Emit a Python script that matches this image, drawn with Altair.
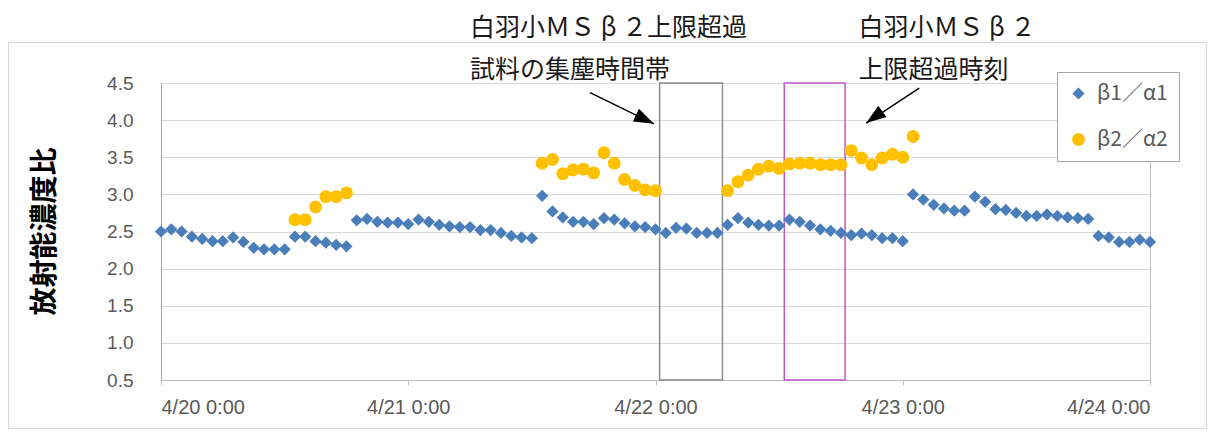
import altair as alt
import pandas as pd

# ---------------- data (hourly, hour 0 = 4/20 0:00) ----------------
series_names = ["β1／α1", "β2／α2"]

beta1_hours = list(range(97))
beta1_alpha1 = [
    2.50, 2.53, 2.50, 2.43, 2.40, 2.37, 2.37, 2.42, 2.36, 2.28,
    2.26, 2.26, 2.26, 2.43, 2.43, 2.37, 2.35, 2.32, 2.30, 2.65,
    2.67, 2.63, 2.62, 2.62, 2.60, 2.66, 2.63, 2.59, 2.57, 2.56,
    2.56, 2.52, 2.52, 2.48, 2.44, 2.42, 2.41, 2.98, 2.77, 2.69,
    2.63, 2.63, 2.60, 2.68, 2.66, 2.61, 2.57, 2.56, 2.53, 2.48,
    2.55, 2.54, 2.48, 2.48, 2.48, 2.59, 2.68, 2.62, 2.59, 2.58,
    2.58, 2.66, 2.63, 2.58, 2.53, 2.51, 2.48, 2.45, 2.47, 2.45,
    2.41, 2.41, 2.37, 3.00, 2.93, 2.86, 2.81, 2.78, 2.78, 2.97,
    2.90, 2.80, 2.79, 2.75, 2.71, 2.71, 2.73, 2.71, 2.69, 2.68,
    2.67, 2.44, 2.42, 2.36, 2.36, 2.39, 2.36,
]

beta2_hours = (list(range(13, 19)) + list(range(37, 49)) + list(range(55, 74)))
beta2_alpha2 = [
    2.66, 2.66, 2.83, 2.97, 2.97, 3.02,
    3.42, 3.47, 3.28, 3.33, 3.34, 3.29, 3.56, 3.42, 3.20, 3.12, 3.06, 3.05,
    3.05, 3.17, 3.26, 3.34, 3.38, 3.35, 3.41, 3.42, 3.42, 3.40, 3.40, 3.40,
    3.59, 3.49, 3.40, 3.49, 3.54, 3.50, 3.78,
]

x_tick_hours = [0, 24, 48, 72, 96]
y_ticks = [0.5, 1.0, 1.5, 2.0, 2.5, 3.0, 3.5, 4.0, 4.5]

# highlighted periods (hours)
box_start = [48.4, 60.5]
box_end = [54.5, 66.4]
box_kind = ["sample", "exceed"]

# annotation texts
note_text = ["白羽小ＭＳ β ２上限超過", "試料の集塵時間帯", "白羽小ＭＳ β ２", "上限超過時刻"]
note_x = [30.0, 30.0, 67.7, 67.7]
note_y = [5.24, 4.67, 5.24, 4.67]

# arrows: start -> tip
arrow_x0 = [41.65, 73.6]
arrow_y0 = [4.37, 4.43]
arrow_x1 = [47.85, 68.45]
arrow_y1 = [3.95, 3.96]
arrow_angle = [25.8, 144.0]

# ---------------- frames ----------------
df = pd.concat([
    pd.DataFrame({"hour": beta1_hours, "value": beta1_alpha1, "series": series_names[0]}),
    pd.DataFrame({"hour": beta2_hours, "value": beta2_alpha2, "series": series_names[1]}),
])
boxes = pd.DataFrame({"x0": box_start, "x1": box_end, "kind": box_kind,
                      "y0": [0.5, 0.5], "y1": [4.5, 4.5]})
notes = pd.DataFrame({"x": note_x, "y": note_y, "t": note_text})
arrows = pd.DataFrame({"x0": arrow_x0, "y0": arrow_y0, "x1": arrow_x1,
                       "y1": arrow_y1, "ang": arrow_angle})

xscale = alt.Scale(domain=[0, 96], nice=False, zero=False)
yscale = alt.Scale(domain=[0.5, 4.5], nice=False, zero=False)

label_expr = "'4/' + (20 + datum.value / 24) + ' 0:00'"

x_axis = alt.Axis(values=x_tick_hours, labelExpr=label_expr, title=None,
                  grid=False, tickSize=5, tickColor="#bfbfbf",
                  domainColor="#bfbfbf", labelPadding=12,
                  labelFontSize=20, labelColor="#595959",
                  labelFont="Liberation Sans", labelOverlap=False)
y_axis = alt.Axis(values=y_ticks, format=".1f", title="放射能濃度比",
                  grid=True, gridColor="#d9d9d9", ticks=False,
                  domainColor="#a6a6a6", labelPadding=28,
                  labelFontSize=19, labelColor="#595959",
                  labelFont="Liberation Sans", labelOverlap=False,
                  titleFont="Noto Sans CJK JP", titleFontSize=28,
                  titleFontWeight="bold", titleColor="#000000",
                  titleAngle=270, titleAlign="center",
                  titleBaseline="middle", titleX=-116, titleY=148)

points = alt.Chart(df).mark_point(filled=True, opacity=1, strokeWidth=0).encode(
    x=alt.X("hour:Q", scale=xscale, axis=x_axis),
    y=alt.Y("value:Q", scale=yscale, axis=y_axis),
    color=alt.Color("series:N",
                    scale=alt.Scale(domain=series_names, range=["#4A7EBB", "#FFC000"]),
                    legend=alt.Legend(title=None)),
    shape=alt.Shape("series:N",
                    scale=alt.Scale(domain=series_names, range=["diamond", "circle"]),
                    legend=alt.Legend(title=None)),
    size=alt.Size("series:N",
                  scale=alt.Scale(domain=series_names, range=[150, 165]),
                  legend=None),
)

rects = alt.Chart(boxes).mark_rect(fillOpacity=0, strokeWidth=1.5).encode(
    x=alt.X("x0:Q", scale=xscale, axis=x_axis),
    x2="x1:Q",
    y=alt.Y("y0:Q", scale=yscale, axis=y_axis),
    y2="y1:Q",
    stroke=alt.Stroke("kind:N",
                      scale=alt.Scale(domain=box_kind, range=["#8c8c8c", "#C055C8"]),
                      legend=None),
)

arrow_lines = alt.Chart(arrows).mark_rule(color="#000000", strokeWidth=1.5).encode(
    x=alt.X("x0:Q", scale=xscale, axis=x_axis), x2="x1:Q",
    y=alt.Y("y0:Q", scale=yscale, axis=y_axis), y2="y1:Q",
)

arrow_heads = alt.Chart(arrows).mark_point(
    shape="M0,0L-2,-0.7L-2,0.7Z", filled=True, color="#000000", opacity=1,
    size=400, strokeWidth=0,
).encode(
    x=alt.X("x1:Q", scale=xscale, axis=x_axis),
    y=alt.Y("y1:Q", scale=yscale, axis=y_axis),
    angle=alt.Angle("ang:Q", scale=None),
)

texts = alt.Chart(notes).mark_text(
    align="left", baseline="middle", fontSize=25, font="Noto Sans CJK JP",
    color="#1a1a1a",
).encode(
    x=alt.X("x:Q", scale=xscale, axis=x_axis),
    y=alt.Y("y:Q", scale=yscale, axis=y_axis),
    text="t:N",
)

frame = alt.Chart(pd.DataFrame({"a": [0]})).mark_rect(
    fill="transparent", stroke="#d9d9d9", strokeWidth=1
).encode(
    x=alt.value(-152.5), x2=alt.value(1045.5),
    y=alt.value(-40.5), y2=alt.value(345.5),
)

chart = alt.layer(frame, rects, points, arrow_lines, arrow_heads, texts).properties(
    width=989, height=297,
    padding={"left": 153, "top": 75, "right": 57, "bottom": 52},
    autosize=alt.AutoSizeParams(type="none"),
).configure_view(
    stroke="#bfbfbf", strokeWidth=1
).configure_axis(
    labelOverlap=False
).configure_legend(
    orient="none", legendX=896, legendY=-11,
    padding=11, strokeColor="#a6a6a6", fillColor="#ffffff",
    labelFontSize=21, labelColor="#595959", labelFont="Noto Sans CJK JP",
    symbolSize=110, rowPadding=24, labelOffset=8, symbolStrokeWidth=0,
    labelLimit=200,
)

chart.save("out.html", embed_options={"renderer": "svg", "actions": False})
